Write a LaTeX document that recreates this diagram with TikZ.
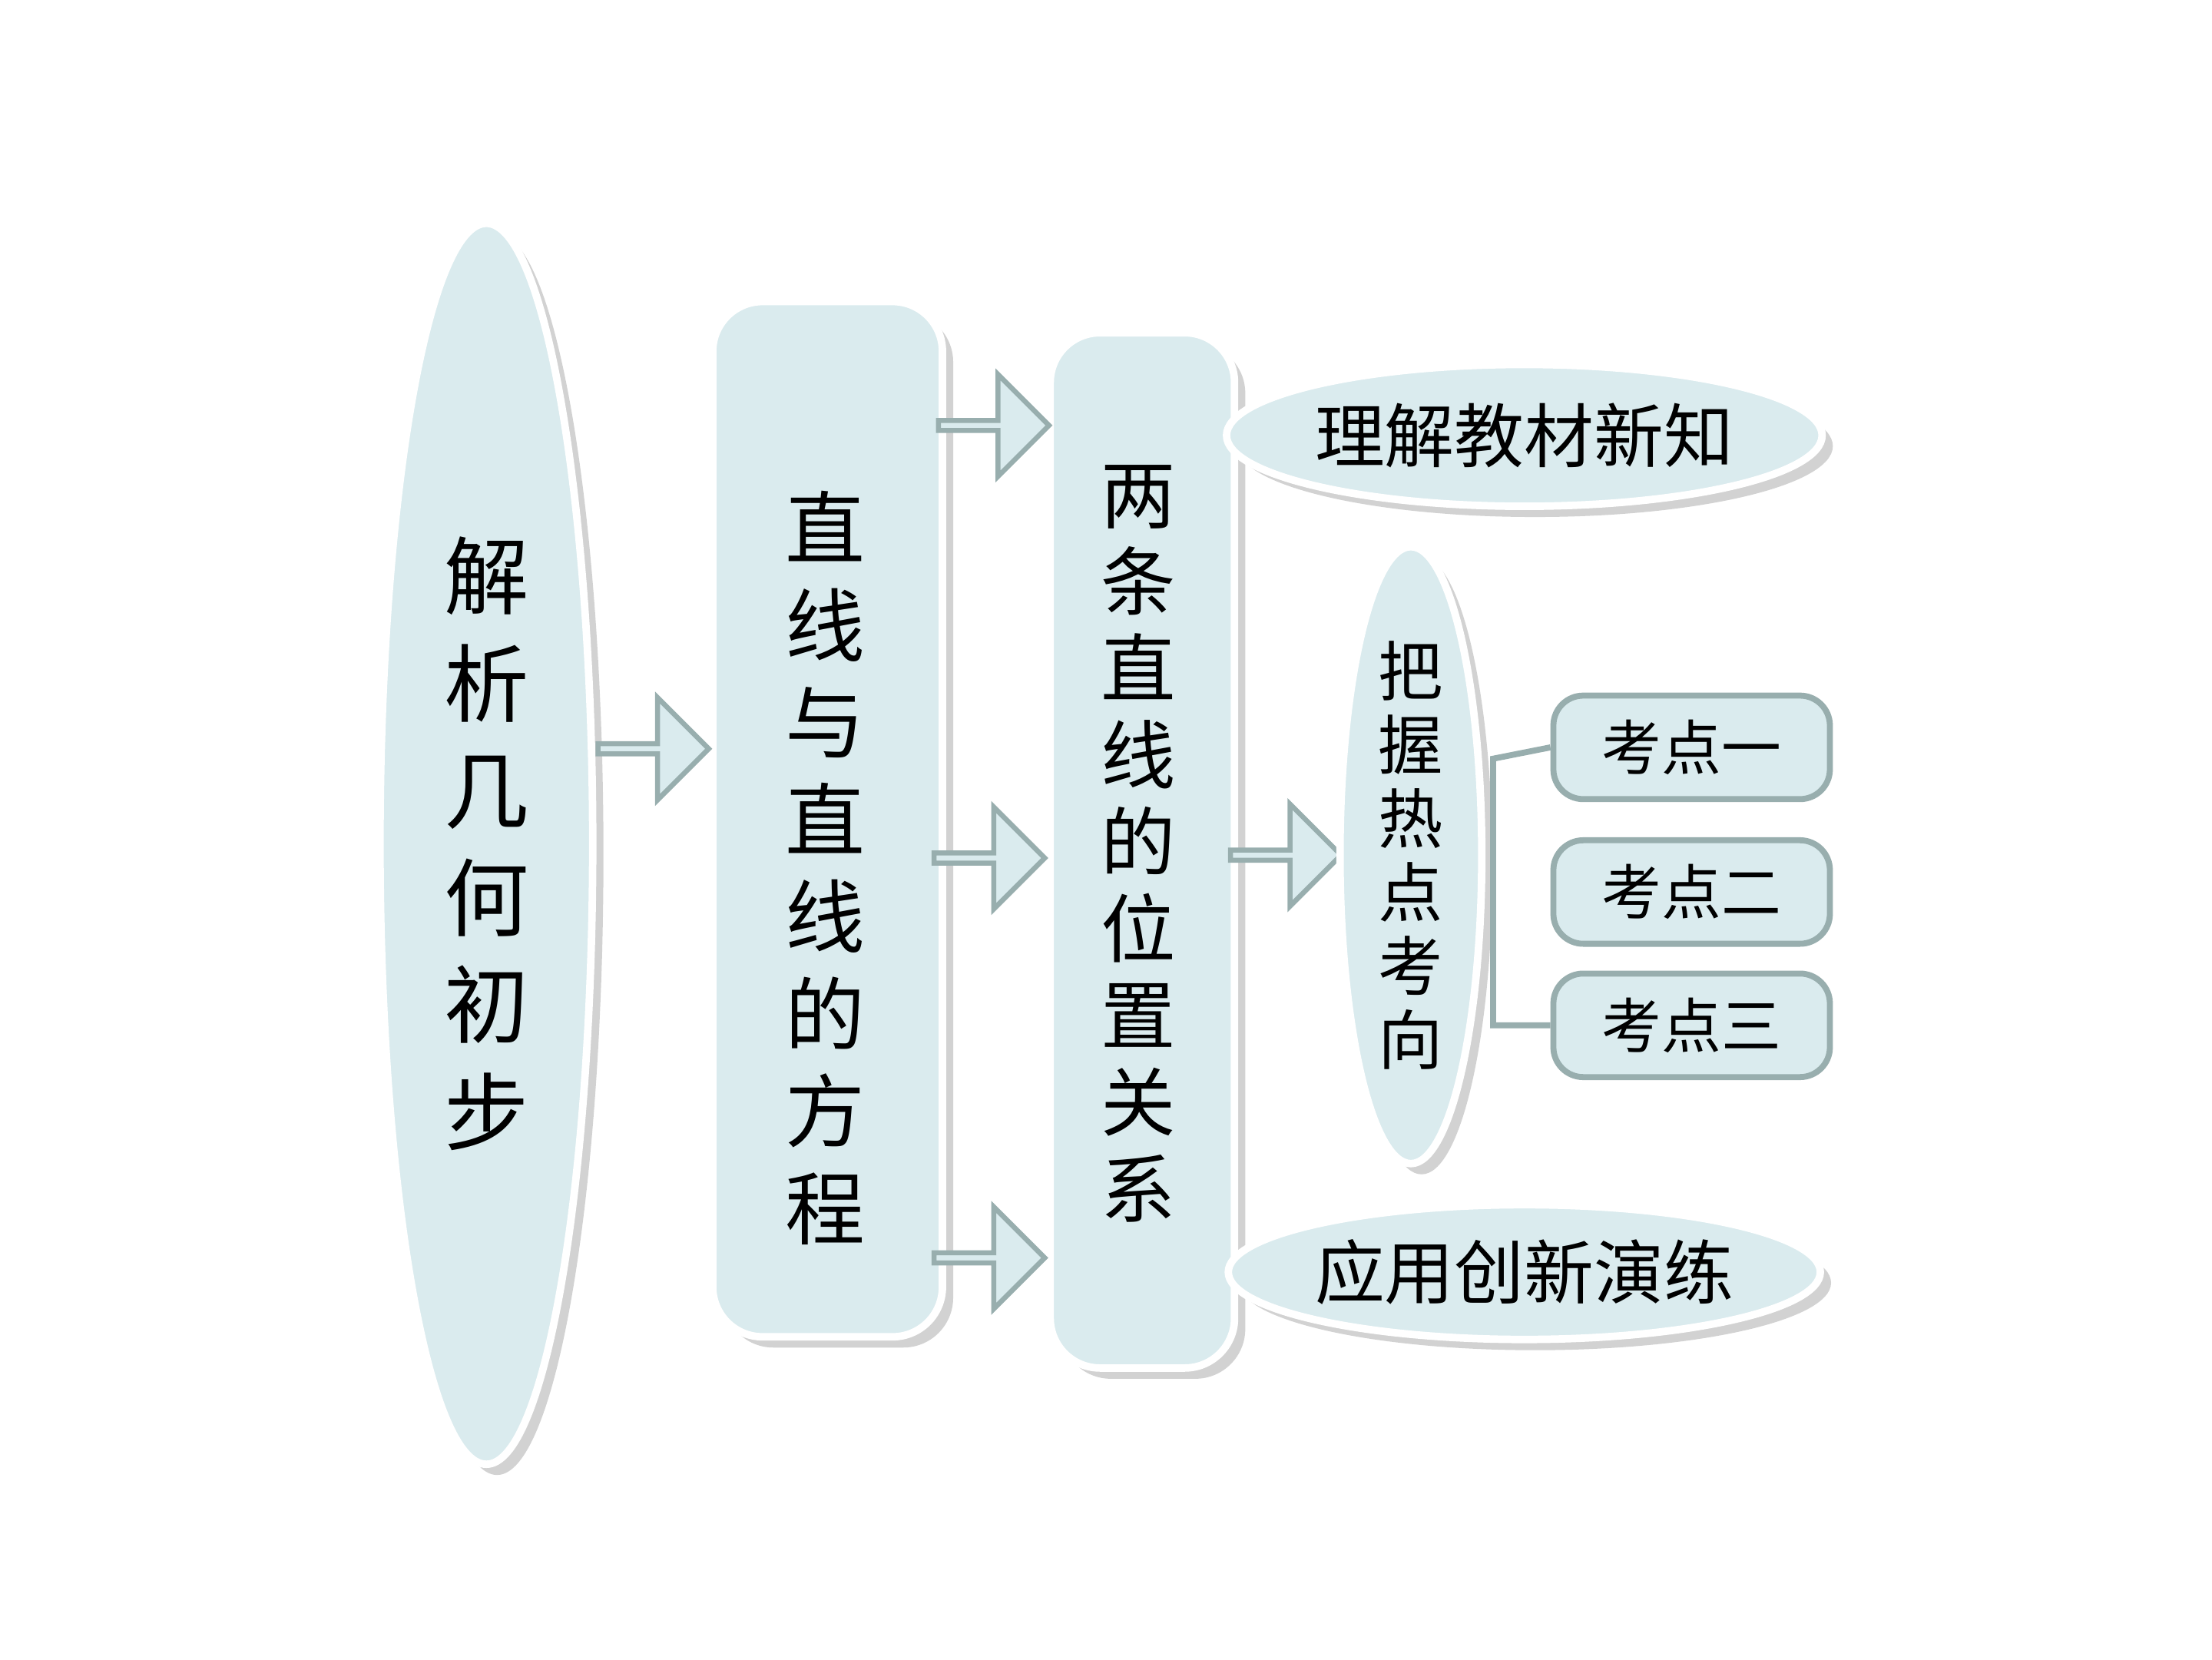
\documentclass[tikz,border=0pt]{standalone}
\usepackage{fontspec}
\newfontfamily\cjk{Noto Sans CJK SC}
\usetikzlibrary{shapes.geometric,shapes.arrows,shadows}
\definecolor{boxfill}{HTML}{DAEBEE}
\definecolor{arrowline}{HTML}{98AEAE}
\tikzset{
  blob/.style={fill=boxfill, draw=white, line width=1.5pt, drop shadow={opacity=0.35}},
  oval/.style={blob, ellipse, inner sep=0pt},
  panel/.style={blob, rounded corners=10pt},
  pointer/.style={single arrow, fill=boxfill, draw=arrowline, line width=1pt,
    minimum height=0.78cm, minimum width=0.72cm, single arrow head extend=0.16cm, inner sep=0pt},
  pointbox/.style={fill=boxfill, draw=arrowline, line width=1.2pt, rounded corners=6pt,
    minimum width=1.95cm, minimum height=0.73cm, font=\cjk\fontsize{12}{14}\selectfont},
}
\begin{document}
\begin{tikzpicture}
\useasboundingbox[fill=white] (0,0) rectangle (15.6,-11.7);
% left column
\node[oval, minimum width=1.5cm, minimum height=8.75cm, align=center,
  font=\cjk\fontsize{17}{21.5}\selectfont] (topic) at (3.43,-5.95)
  {解\\析\\几\\何\\初\\步};
\node[panel, minimum width=1.62cm, minimum height=7.3cm, anchor=north west] (chapter) at (5.0,-2.1) {};
\node[align=center, font=\cjk\fontsize{16}{19.5}\selectfont] (chaptertxt) at (5.82,-6.12)
  {直\\线\\与\\直\\线\\的\\方\\程};
\node[panel, minimum width=1.3cm, minimum height=7.3cm, anchor=north west] (section) at (7.38,-2.32) {};
\node[align=center, font=\cjk\fontsize{15}{17.4}\selectfont] (sectiontxt) at (8.03,-5.95)
  {两\\条\\直\\线\\的\\位\\置\\关\\系};
% arrows
\node[pointer] (a1) at (4.59,-5.28) {};
\node[pointer] (a2) at (6.99,-3.0) {};
\node[pointer] (a3) at (6.96,-6.05) {};
\node[pointer] (a4) at (6.96,-8.87) {};
\node[pointer] (a5) at (9.05,-6.03) {};
% right column
\node[oval, minimum width=4.2cm, minimum height=1.0cm, font=\cjk\fontsize{14}{16}\selectfont]
  (learn) at (10.75,-3.07) {理解教材新知};
\node[oval, minimum width=1.0cm, minimum height=4.35cm, align=center,
  font=\cjk\fontsize{13}{14.8}\selectfont] (hot) at (9.95,-6.03)
  {把\\握\\热\\点\\考\\向};
\node[oval, minimum width=4.15cm, minimum height=0.95cm, font=\cjk\fontsize{14}{16}\selectfont]
  (apply) at (10.75,-8.97) {应用创新演练};
\node[pointbox] (k1) at (11.93,-5.27) {考点一};
\node[pointbox] (k2) at (11.93,-6.29) {考点二};
\node[pointbox] (k3) at (11.93,-7.23) {考点三};
\coordinate (brtop) at (10.53,-5.35);
\coordinate (brbot) at (10.53,-7.23);
\draw[arrowline, line width=1.2pt] (k1.west) -- (brtop) -- (brbot) -- (k3.west);
\end{tikzpicture}
\end{document}
